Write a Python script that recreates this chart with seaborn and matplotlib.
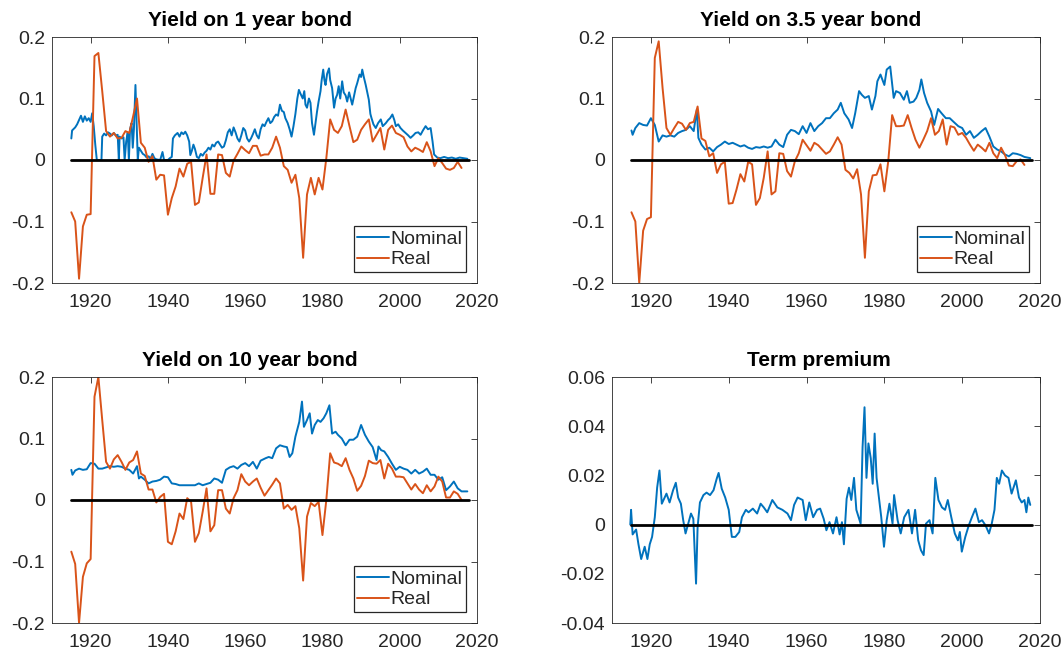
import numpy as np
import pandas as pd
import matplotlib
matplotlib.use("Agg")
import matplotlib.pyplot as plt
import seaborn as sns

# ---- data ----
real_years = list(range(1915, 2017))

nom1_years = [1915.0, 1915.2, 1916.0, 1916.5, 1917.0, 1917.5, 1918.0, 1918.5, 1919.0, 1919.5,
              1920.0, 1920.4, 1920.8, 1921.2, 1921.6, 1922.8, 1923.0, 1923.5, 1924.0, 1924.5,
              1925.0, 1925.5, 1926.0, 1926.5, 1927.0, 1927.3, 1927.5, 1928.0, 1928.5, 1928.8,
              1929.2, 1929.6, 1929.9, 1930.2, 1930.6, 1930.9, 1931.2, 1931.6, 1931.9, 1932.2,
              1932.5, 1933.0, 1933.5, 1934.0, 1934.5, 1935.0, 1935.5, 1936.0, 1936.5, 1937.0,
              1938.0, 1938.6, 1939.0, 1940.0, 1940.5, 1941.0, 1941.3, 1941.8, 1942.5, 1943.0,
              1943.5, 1944.0, 1944.5, 1945.0, 1945.5, 1945.8, 1946.2, 1946.6, 1947.0, 1947.5,
              1948.0, 1948.5, 1949.0, 1949.5, 1950.0, 1950.5, 1951.0, 1951.5, 1952.0, 1952.5,
              1953.0, 1953.5, 1954.0, 1954.5, 1955.0, 1955.5, 1956.0, 1956.5, 1957.0, 1957.5,
              1958.0, 1958.5, 1959.0, 1959.5, 1960.0, 1960.5, 1961.0, 1961.5, 1962.0, 1962.5,
              1963.0, 1963.5, 1964.0, 1964.5, 1965.0, 1965.5, 1966.0, 1966.5, 1967.0, 1967.5,
              1968.0, 1968.5, 1969.0, 1969.5, 1970.0, 1970.4, 1971.0, 1971.5, 1972.0, 1972.5,
              1973.0, 1973.5, 1973.9, 1974.3, 1974.9, 1975.3, 1975.6, 1976.0, 1976.5, 1976.9,
              1977.3, 1977.8, 1978.2, 1978.6, 1979.0, 1979.5, 1979.8, 1980.2, 1980.5, 1980.8,
              1981.2, 1981.7, 1982.0, 1982.5, 1983.0, 1983.4, 1983.8, 1984.2, 1984.6, 1985.1,
              1985.5, 1986.0, 1986.4, 1986.9, 1987.3, 1987.7, 1988.2, 1988.6, 1989.0, 1989.6,
              1990.0, 1990.3, 1990.7, 1991.2, 1991.6, 1992.0, 1992.4, 1992.7, 1993.2, 1993.8,
              1994.4, 1995.1, 1995.6, 1996.4, 1997.0, 1997.5, 1998.1, 1998.6, 1999.0, 1999.6,
              2000.2, 2000.8, 2001.5, 2002.2, 2002.8, 2003.5, 2004.1, 2004.8, 2005.4, 2006.0,
              2006.7, 2007.3, 2008.0, 2008.5, 2008.9, 2009.7, 2010.5, 2011.5, 2012.5, 2013.5,
              2014.5, 2015.5, 2016.5, 2017.5]
nom1_vals = [0.035, 0.048, 0.053, 0.058, 0.065, 0.072, 0.062, 0.071, 0.064, 0.068,
             0.062, 0.076, 0.055, 0.025, 0.0, 0.0, 0.038, 0.043, 0.040, 0.045,
             0.043, 0.040, 0.044, 0.040, 0.041, 0.0, 0.038, 0.035, 0.037, 0.0,
             0.030, 0.045, 0.0, 0.050, 0.060, 0.020, 0.050, 0.122, 0.060, 0.0,
             0.020, 0.015, 0.010, 0.008, 0.004, 0.006, 0.002, 0.010, 0.003, 0.001,
             0.0, 0.013, 0.0, 0.0, 0.003, 0.005, 0.035, 0.040, 0.044, 0.038,
             0.045, 0.042, 0.046, 0.040, 0.030, 0.008, 0.015, 0.025, 0.018, 0.005,
             0.003, 0.010, 0.007, 0.012, 0.015, 0.020, 0.017, 0.025, 0.022, 0.028,
             0.030, 0.025, 0.020, 0.022, 0.032, 0.045, 0.050, 0.040, 0.053, 0.045,
             0.035, 0.030, 0.040, 0.052, 0.048, 0.035, 0.030, 0.035, 0.042, 0.050,
             0.040, 0.035, 0.050, 0.058, 0.055, 0.062, 0.068, 0.060, 0.063, 0.070,
             0.074, 0.072, 0.090, 0.080, 0.078, 0.068, 0.060, 0.050, 0.038, 0.055,
             0.075, 0.100, 0.114, 0.108, 0.100, 0.112, 0.090, 0.085, 0.100, 0.093,
             0.060, 0.041, 0.060, 0.079, 0.095, 0.112, 0.130, 0.147, 0.130, 0.122,
             0.140, 0.149, 0.130, 0.117, 0.085, 0.100, 0.106, 0.120, 0.100, 0.128,
             0.110, 0.105, 0.095, 0.110, 0.100, 0.090, 0.105, 0.117, 0.125, 0.139,
             0.135, 0.147, 0.135, 0.122, 0.110, 0.098, 0.075, 0.068, 0.058, 0.052,
             0.060, 0.066, 0.055, 0.060, 0.065, 0.068, 0.074, 0.065, 0.055, 0.058,
             0.052, 0.048, 0.044, 0.040, 0.036, 0.040, 0.044, 0.045, 0.041, 0.048,
             0.055, 0.050, 0.052, 0.030, 0.009, 0.004, 0.003, 0.005, 0.003, 0.004,
             0.002, 0.004, 0.003, 0.002]
real1_vals = [-0.085, -0.100, -0.193, -0.108, -0.089, -0.088, 0.169, 0.174, 0.112, 0.047,
              0.038, 0.044, 0.035, 0.036, 0.047, 0.044, 0.071, 0.100, 0.028, 0.020,
              -0.003, 0.006, -0.032, -0.024, -0.025, -0.089, -0.062, -0.043, -0.014, -0.027,
              -0.006, -0.003, -0.073, -0.069, -0.029, 0.009, -0.055, -0.055, 0.009, 0.008,
              -0.021, -0.027, -0.001, 0.010, 0.022, 0.016, 0.011, 0.023, 0.023, 0.007,
              0.009, 0.009, 0.020, 0.038, 0.020, -0.010, -0.016, -0.037, -0.024, -0.062,
              -0.159, -0.056, -0.029, -0.056, -0.029, -0.048, 0.003, 0.066, 0.049, 0.044,
              0.055, 0.082, 0.055, 0.029, 0.033, 0.049, 0.058, 0.066, 0.030, 0.041,
              0.052, 0.017, 0.049, 0.056, 0.044, 0.041, 0.037, 0.022, 0.014, 0.020,
              0.017, 0.013, 0.029, 0.014, -0.010, 0.003, -0.005, -0.014, -0.016, -0.013,
              -0.003, -0.013]

nom35_years = [1915.0, 1915.3, 1916.0, 1917.0, 1918.0, 1919.0, 1920.0, 1921.0, 1922.0, 1923.0,
               1924.0, 1925.0, 1926.0, 1927.0, 1928.0, 1929.0, 1930.0, 1931.0, 1931.8, 1932.2,
               1933.0, 1934.0, 1935.0, 1936.0, 1937.0, 1938.0, 1939.0, 1940.0, 1941.0, 1942.0,
               1943.0, 1944.0, 1945.0, 1946.0, 1947.0, 1948.0, 1949.0, 1950.0, 1951.0, 1952.0,
               1953.0, 1954.0, 1955.0, 1956.0, 1957.0, 1958.0, 1959.0, 1960.0, 1961.0, 1962.0,
               1963.0, 1964.0, 1965.0, 1966.0, 1967.0, 1968.0, 1968.8, 1969.7, 1970.8, 1971.7,
               1972.5, 1973.5, 1974.2, 1975.0, 1976.0, 1976.8, 1977.7, 1978.2, 1979.0, 1980.0,
               1980.6, 1981.5, 1982.4, 1983.0, 1984.0, 1985.0, 1985.8, 1986.5, 1987.5, 1988.2,
               1989.0, 1989.5, 1990.2, 1991.0, 1992.0, 1992.8, 1993.8, 1994.7, 1995.8, 1996.8,
               1997.8, 1999.0, 2000.0, 2001.0, 2002.0, 2003.0, 2004.0, 2005.0, 2006.0, 2007.0,
               2008.0, 2009.0, 2010.0, 2011.0, 2012.0, 2013.0, 2014.0, 2015.0, 2016.0, 2017.5]
nom35_vals = [0.048, 0.041, 0.052, 0.060, 0.057, 0.056, 0.068, 0.057, 0.030, 0.040,
              0.038, 0.040, 0.038, 0.044, 0.047, 0.049, 0.055, 0.047, 0.082, 0.036,
              0.025, 0.017, 0.020, 0.014, 0.021, 0.025, 0.030, 0.026, 0.028, 0.025,
              0.022, 0.024, 0.020, 0.018, 0.021, 0.020, 0.022, 0.020, 0.022, 0.033,
              0.025, 0.021, 0.041, 0.049, 0.047, 0.042, 0.055, 0.044, 0.060, 0.047,
              0.055, 0.060, 0.068, 0.068, 0.076, 0.082, 0.093, 0.076, 0.066, 0.052,
              0.076, 0.112, 0.106, 0.101, 0.104, 0.082, 0.104, 0.128, 0.139, 0.122,
              0.147, 0.152, 0.101, 0.112, 0.109, 0.098, 0.112, 0.093, 0.095, 0.101,
              0.114, 0.131, 0.109, 0.093, 0.079, 0.057, 0.083, 0.076, 0.068, 0.068,
              0.062, 0.055, 0.052, 0.041, 0.047, 0.036, 0.041, 0.047, 0.052, 0.038,
              0.022, 0.017, 0.014, 0.009, 0.006, 0.011, 0.010, 0.008, 0.005, 0.003]
real35_vals = [-0.085, -0.100, -0.200, -0.115, -0.096, -0.093, 0.166, 0.193, 0.117, 0.052,
               0.041, 0.052, 0.062, 0.059, 0.049, 0.060, 0.062, 0.087, 0.035, 0.031,
               0.006, 0.011, -0.021, -0.007, -0.003, -0.071, -0.070, -0.048, -0.023, -0.035,
               -0.003, -0.007, -0.073, -0.062, -0.029, 0.014, -0.056, -0.051, 0.011, 0.010,
               -0.018, -0.027, -0.002, 0.011, 0.033, 0.024, 0.015, 0.028, 0.024, 0.017,
               0.010, 0.014, 0.025, 0.037, 0.025, -0.016, -0.021, -0.030, -0.015, -0.056,
               -0.159, -0.051, -0.025, -0.024, -0.007, -0.051, -0.002, 0.073, 0.055, 0.055,
               0.056, 0.073, 0.052, 0.033, 0.020, 0.033, 0.047, 0.068, 0.041, 0.047,
               0.066, 0.025, 0.055, 0.053, 0.041, 0.044, 0.036, 0.025, 0.015, 0.025,
               0.020, 0.014, 0.028, 0.011, 0.003, 0.020, 0.008, -0.009, -0.010, -0.002,
               0.001, -0.008]

nom10_years = [1915.0, 1915.3, 1916.0, 1917.0, 1918.0, 1919.0, 1920.0, 1921.0, 1922.0, 1923.0,
               1924.0, 1925.0, 1926.0, 1927.0, 1928.0, 1929.0, 1930.0, 1931.0, 1932.0, 1932.5,
               1933.0, 1934.0, 1935.0, 1936.0, 1937.0, 1938.0, 1939.0, 1940.0, 1941.0, 1942.0,
               1943.0, 1944.0, 1945.0, 1946.0, 1947.0, 1948.0, 1949.0, 1950.0, 1951.0, 1952.0,
               1953.0, 1954.0, 1955.0, 1956.0, 1957.0, 1958.0, 1959.0, 1960.0, 1961.0, 1962.0,
               1963.0, 1964.0, 1965.3, 1966.1, 1967.0, 1968.0, 1969.0, 1970.0, 1970.8, 1971.5,
               1972.2, 1973.0, 1974.0, 1974.7, 1975.2, 1976.0, 1976.7, 1977.3, 1978.0, 1978.8,
               1979.5, 1980.3, 1981.0, 1981.8, 1982.5, 1983.4, 1984.0, 1985.0, 1986.0, 1987.0,
               1988.0, 1989.0, 1990.0, 1991.0, 1992.0, 1993.0, 1994.0, 1994.5, 1995.2, 1996.0,
               1997.0, 1998.0, 1999.0, 2000.0, 2001.0, 2002.0, 2003.0, 2004.0, 2005.0, 2006.0,
               2007.0, 2008.0, 2009.0, 2010.0, 2011.0, 2012.0, 2013.0, 2014.0, 2015.0, 2016.0,
               2017.5]
nom10_vals = [0.049, 0.041, 0.048, 0.051, 0.049, 0.050, 0.060, 0.059, 0.051, 0.051,
              0.053, 0.055, 0.054, 0.055, 0.054, 0.051, 0.049, 0.043, 0.055, 0.035,
              0.038, 0.033, 0.027, 0.030, 0.031, 0.033, 0.038, 0.037, 0.027, 0.026,
              0.024, 0.024, 0.024, 0.024, 0.024, 0.027, 0.024, 0.026, 0.028, 0.035,
              0.033, 0.028, 0.049, 0.053, 0.055, 0.051, 0.057, 0.060, 0.055, 0.062,
              0.051, 0.064, 0.068, 0.070, 0.068, 0.084, 0.089, 0.087, 0.086, 0.070,
              0.076, 0.103, 0.127, 0.160, 0.119, 0.130, 0.141, 0.108, 0.122, 0.130,
              0.127, 0.133, 0.141, 0.154, 0.108, 0.111, 0.106, 0.100, 0.089, 0.098,
              0.098, 0.103, 0.122, 0.106, 0.095, 0.086, 0.065, 0.087, 0.081, 0.079,
              0.070, 0.059, 0.049, 0.054, 0.051, 0.049, 0.043, 0.049, 0.043, 0.046,
              0.051, 0.041, 0.041, 0.033, 0.037, 0.016, 0.022, 0.030, 0.019, 0.014,
              0.014]
real10_vals = [-0.084, -0.104, -0.200, -0.125, -0.103, -0.096, 0.168, 0.200, 0.130, 0.062,
               0.051, 0.066, 0.073, 0.062, 0.049, 0.061, 0.065, 0.079, 0.043, 0.039,
               0.017, 0.017, -0.004, 0.005, 0.010, -0.068, -0.072, -0.051, -0.022, -0.031,
               0.003, -0.003, -0.068, -0.054, -0.019, 0.019, -0.051, -0.041, 0.016, 0.016,
               -0.014, -0.022, 0.003, 0.016, 0.042, 0.030, 0.024, 0.030, 0.035, 0.020,
               0.007, 0.016, 0.025, 0.035, 0.027, -0.014, -0.008, -0.016, -0.010, -0.046,
               -0.131, -0.027, -0.005, -0.010, -0.003, -0.057, 0.000, 0.076, 0.061, 0.059,
               0.055, 0.068, 0.049, 0.035, 0.015, 0.023, 0.039, 0.064, 0.060, 0.059,
               0.065, 0.035, 0.059, 0.051, 0.038, 0.038, 0.037, 0.027, 0.017, 0.026,
               0.017, 0.011, 0.024, 0.014, 0.022, 0.038, 0.030, 0.004, 0.004, 0.014,
               0.010, 0.000]

tp_years = [1914.7, 1914.9, 1915.3, 1916.2, 1916.8, 1917.5, 1918.4, 1919.1, 1919.7, 1920.3,
            1921.0, 1921.6, 1922.2, 1922.8, 1924.0, 1924.8, 1925.7, 1926.4, 1927.0, 1927.7,
            1928.3, 1928.9, 1929.6, 1930.3, 1930.9, 1931.6, 1932.0, 1932.6, 1933.5, 1934.3,
            1935.2, 1936.1, 1936.9, 1937.4, 1938.2, 1939.1, 1940.0, 1940.8, 1941.7, 1942.7,
            1943.4, 1944.4, 1945.1, 1946.2, 1947.3, 1948.2, 1949.0, 1949.9, 1951.2, 1952.5,
            1953.8, 1955.1, 1956.0, 1956.8, 1957.7, 1959.0, 1959.8, 1960.7, 1961.7, 1962.7,
            1963.5, 1964.4, 1965.1, 1965.9, 1966.8, 1967.7, 1968.5, 1969.1, 1969.6, 1970.3,
            1970.9, 1971.5, 1972.2, 1972.8, 1973.4, 1973.9, 1974.4, 1974.9, 1975.4, 1975.9,
            1976.5, 1977.0, 1977.5, 1978.0, 1978.6, 1979.2, 1979.9, 1980.6, 1981.3, 1982.1,
            1982.5, 1983.4, 1984.2, 1985.1, 1986.2, 1987.1, 1987.9, 1988.7, 1989.4, 1990.1,
            1990.7, 1991.6, 1992.4, 1993.1, 1993.9, 1994.8, 1995.6, 1996.3, 1997.2, 1998.1,
            1998.9, 1999.4, 1999.9, 2000.8, 2001.7, 2002.5, 2003.4, 2004.3, 2005.1, 2006.0,
            2006.9, 2007.6, 2008.3, 2008.9, 2009.5, 2010.2, 2011.0, 2011.9, 2012.7, 2013.8,
            2014.6, 2015.3, 2016.0, 2016.5, 2017.0, 2017.5]
tp_vals = [0.000, 0.006, -0.004, -0.002, -0.008, -0.014, -0.009, -0.014, -0.008, -0.005,
           0.003, 0.015, 0.022, 0.0085, 0.0126, 0.009, 0.014, 0.017, 0.011, 0.0085,
           0.0018, -0.0036, 0.0004, 0.0045, 0.0024, -0.024, -0.001, 0.009, 0.012, 0.013,
           0.012, 0.014, 0.0186, 0.021, 0.0146, 0.011, 0.006, -0.005, -0.005, -0.003,
           0.003, 0.006, 0.005, 0.0065, 0.0045, 0.0085, 0.007, 0.005, 0.010, 0.007,
           0.006, 0.0045, 0.0018, 0.008, 0.011, 0.010, 0.0018, 0.009, 0.003, 0.006,
           0.0065, 0.0024, -0.0023, 0.001, -0.0036, 0.003, -0.004, 0.001, -0.008, 0.0105,
           0.015, 0.010, 0.019, 0.006, 0.003, 0.0004, 0.0315, 0.0477, 0.019, 0.033,
           0.027, 0.0166, 0.037, 0.019, 0.011, 0.003, -0.009, 0.0018, 0.0085, 0.0004,
           0.012, 0.0018, -0.0036, 0.003, 0.006, -0.0036, 0.006, -0.0064, -0.0104, -0.0124,
           0.0004, 0.0018, -0.0036, 0.019, 0.010, 0.007, 0.006, 0.010, 0.003, -0.0036,
           -0.0064, -0.003, -0.011, -0.005, -0.0003, 0.003, 0.0065, 0.001, 0.0018, -0.0003,
           -0.0036, 0.0004, 0.006, 0.019, 0.0166, 0.022, 0.020, 0.019, 0.0126, 0.018,
           0.011, 0.009, 0.010, 0.005, 0.011, 0.008]

titles = ["Yield on 1 year bond", "Yield on 3.5 year bond", "Yield on 10 year bond", "Term premium"]
title_x = [0.465, 0.465, 0.465, 0.483]
yield_ticks = [-0.2, -0.1, 0, 0.1, 0.2]
yield_labels = ["-0.2", "-0.1", "0", "0.1", "0.2"]
tp_ticks = [-0.04, -0.02, 0, 0.02, 0.04, 0.06]
tp_labels = ["-0.04", "-0.02", "0", "0.02", "0.04", "0.06"]
x_ticks = [1920, 1940, 1960, 1980, 2000, 2020]

BLUE = "#0072BD"
ORANGE = "#D95319"
GREY = "#262626"

sns.set_theme(style="white")
plt.rcParams["font.family"] = ["Liberation Sans", "DejaVu Sans"]
plt.rcParams["axes.unicode_minus"] = False

fig = plt.figure(figsize=(10.64, 6.57), dpi=100)
W, H = 1064, 657
boxes = [(52, 37, 477, 283), (612, 37, 1040, 283), (52, 377, 477, 623), (612, 377, 1040, 623)]
axes = [fig.add_axes([l / W, 1 - b / H, (r - l) / W, (b - t) / H]) for (l, t, r, b) in boxes]

panels = [(nom1_years, nom1_vals, real1_vals),
          (nom35_years, nom35_vals, real35_vals),
          (nom10_years, nom10_vals, real10_vals)]

for ax, (ny, nv, rv) in zip(axes[:3], panels):
    sns.lineplot(x=ny, y=nv, ax=ax, color=BLUE, linewidth=1.4, label="Nominal", estimator=None)
    sns.lineplot(x=real_years, y=rv, ax=ax, color=ORANGE, linewidth=1.4, label="Real", estimator=None)
    ax.plot([1915, 2018], [0, 0], color="black", linewidth=2)
    ax.set_ylim(-0.2, 0.2)
    ax.set_yticks(yield_ticks)
    ax.set_yticklabels(yield_labels)
    leg = ax.legend(loc="lower right", fontsize=14, frameon=True, fancybox=False,
                    edgecolor=GREY, framealpha=1, borderpad=0.2, handlelength=1.6,
                    handletextpad=0.1, labelspacing=0.15, borderaxespad=0.55)
    leg.get_frame().set_linewidth(0.9)

ax = axes[3]
sns.lineplot(x=tp_years, y=tp_vals, ax=ax, color=BLUE, linewidth=1.4, estimator=None)
ax.plot([1915, 2018], [0, 0], color="black", linewidth=2)
ax.set_ylim(-0.04, 0.06)
ax.set_yticks(tp_ticks)
ax.set_yticklabels(tp_labels)

for ax, title, tx in zip(axes, titles, title_x):
    ax.set_xlim(1910, 2020)
    ax.set_xticks(x_ticks)
    ax.set_title(title, fontsize=15, fontweight="bold", pad=8, x=tx, color="black")
    ax.set_xlabel("")
    ax.set_ylabel("")
    ax.tick_params(direction="in", length=4, width=0.6, color=GREY, labelcolor=GREY,
                   labelsize=14, top=True, right=True)
    ax.tick_params(axis="x", pad=8)
    ax.tick_params(axis="y", pad=5)
    for s in ax.spines.values():
        s.set_visible(True)
        s.set_color(GREY)
        s.set_linewidth(0.6)

fig.savefig("out.png", dpi=100)
